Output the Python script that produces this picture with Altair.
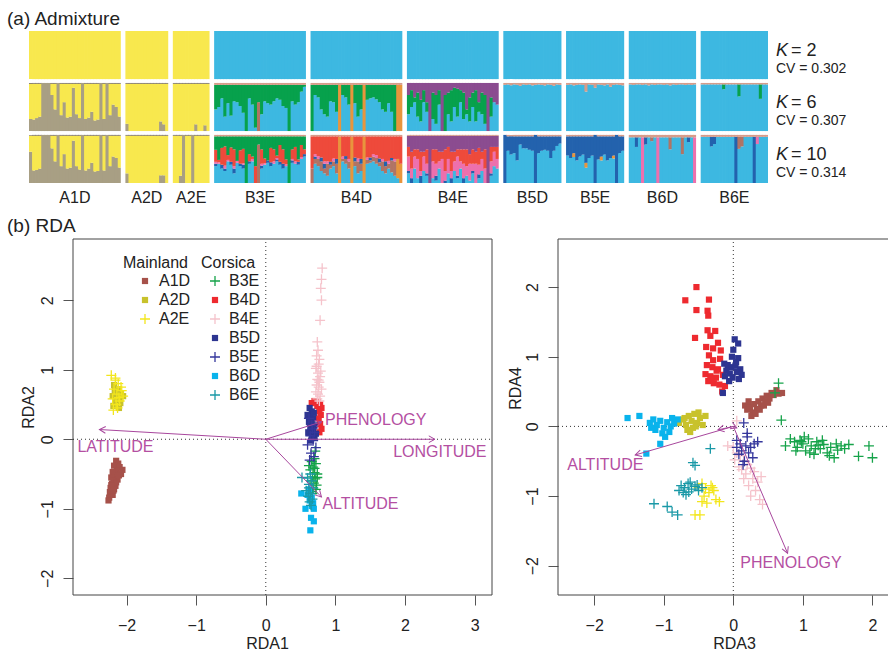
import math
import altair as alt
import pandas as pd

FONT = "Liberation Sans"
INK = "#222222"
ARROW = "#a8479d"
ARROW_TEXT = "#b44fa2"

# ------------------------------------------------------------------ (a) admixture
POPS = ["A1D", "A2D", "A2E", "B3E", "B4D", "B4E", "B5D", "B5E", "B6D", "B6E"]
N_IND = [30, 14, 12, 30, 30, 30, 19, 19, 22, 22]
K_LIST = [2, 6, 10]
CV_LIST = ["0.302", "0.307", "0.314"]

CLUSTERS = ["yellow", "grey", "stripe", "blue", "green", "orange",
            "purple", "red", "pink", "navy", "rose", "tip"]
CLUSTER_COLORS = ["#f8e84e", "#a89f84", "#8d8470", "#3db8e1", "#07a14c", "#e8953d",
                  "#8b4c90", "#ee4a3b", "#ed70ad", "#2362ad", "#b07465", "#d69c8a"]

# ancestry proportions (%) per individual, listed bottom-to-top inside each bar
A1D_K6_GREY = [25, 24, 27, 30, 100, 100, 100, 75, 45, 100, 33, 60, 28, 30, 90, 35, 27, 100, 25, 28,
               40, 22, 24, 100, 25, 100, 33, 55, 50, 30]
A1D_K10_GREY = [65, 26, 27, 30, 100, 100, 100, 72, 45, 100, 35, 60, 30, 32, 88, 35, 28, 100, 26, 30,
                42, 24, 25, 100, 26, 100, 35, 55, 52, 32]
A2D_K6_GREY = [15, 0, 0, 0, 0, 0, 0, 0, 0, 0, 0, 20, 14, 0]
A2D_K10_GREY = [20, 0, 0, 0, 0, 0, 0, 0, 0, 0, 0, 16, 16, 0]
A2E_K6_GREY = [0, 0, 0, 0, 0, 0, 0, 14, 0, 0, 12, 0]
A2E_K10_GREY = [0, 0, 15, 100, 0, 0, 100, 0, 0, 0, 0, 0]

B3E_K6_BLUE = [45, 50, 68, 30, 58, 32, 62, 60, 52, 38, 0, 68, 55, 7, 0, 35, 62, 58, 55, 62,
               68, 65, 52, 48, 0, 62, 55, 60, 82, 92]
B3E_K6_ROSE = [0, 0, 0, 0, 0, 0, 0, 0, 0, 0, 0, 0, 0, 0, 60, 0, 0, 0, 0, 0,
               0, 0, 0, 0, 0, 0, 0, 0, 0, 0]
B3E_K10_BLUE = [35, 40, 30, 25, 45, 38, 20, 42, 35, 30, 0, 40, 45, 0, 0, 30, 38, 42, 35, 40,
                45, 38, 30, 35, 0, 42, 40, 38, 50, 55]
B3E_K10_NAVY = [5, 0, 8, 5, 0, 6, 10, 0, 5, 8, 0, 5, 0, 0, 0, 6, 0, 5, 8, 0,
                4, 6, 10, 0, 0, 5, 0, 6, 0, 5]
B3E_K10_PINK = [4, 3, 0, 6, 3, 0, 5, 4, 0, 3, 0, 0, 5, 0, 0, 4, 3, 0, 0, 5,
                3, 0, 0, 4, 0, 3, 5, 0, 4, 0]
B3E_K10_RED = [25, 5, 35, 40, 10, 30, 35, 0, 28, 30, 0, 15, 5, 35, 0, 30, 10, 0, 30, 25,
               5, 35, 30, 10, 0, 20, 30, 5, 25, 10]
B3E_K10_ROSE = [0, 0, 0, 0, 0, 0, 0, 0, 0, 0, 0, 0, 0, 0, 80, 0, 0, 0, 0, 0,
                0, 0, 0, 0, 0, 0, 0, 0, 0, 0]

B4D_K6_BLUE = [0, 75, 70, 45, 35, 30, 62, 60, 40, 0, 75, 70, 55, 0, 58, 30, 45, 0, 65, 68,
               70, 66, 60, 45, 40, 58, 40, 0, 0, 0]
B4D_K6_ORANGE = [0, 0, 0, 0, 0, 0, 0, 0, 0, 96, 0, 0, 0, 96, 0, 0, 0, 96, 0, 0,
                 0, 0, 0, 0, 0, 0, 0, 0, 96, 96]
B4D_K10_BLUE = [0, 40, 35, 25, 20, 15, 30, 35, 20, 0, 45, 40, 30, 0, 35, 20, 25, 0, 40, 42,
                45, 40, 35, 25, 20, 30, 22, 15, 10, 0]
B4D_K10_ORANGE = [0, 0, 0, 0, 0, 0, 0, 0, 0, 96, 0, 0, 0, 96, 0, 0, 0, 96, 0, 0,
                  0, 0, 0, 0, 0, 0, 0, 0, 40, 40]
B4D_K10_ROSE = [30, 10, 15, 20, 10, 25, 8, 10, 20, 0, 5, 10, 15, 0, 10, 25, 15, 0, 8, 5,
                10, 12, 8, 20, 15, 10, 25, 30, 0, 0]
B4D_K10_NAVY = [0, 5, 0, 8, 10, 0, 6, 0, 10, 0, 0, 6, 0, 0, 8, 0, 10, 0, 0, 6,
                0, 0, 8, 0, 10, 0, 5, 0, 0, 0]
B4D_K10_PINK = [0, 5, 6, 0, 5, 5, 0, 6, 0, 0, 5, 0, 5, 0, 0, 6, 0, 0, 5, 0,
                5, 6, 0, 5, 0, 6, 0, 5, 0, 0]

B4E_K6_BLUE = [35, 50, 60, 30, 20, 60, 40, 0, 25, 15, 55, 0, 0, 35, 20, 50, 30, 60, 25, 35,
               20, 50, 20, 40, 35, 15, 0, 30, 60, 55]
B4E_K6_GREEN = [40, 35, 10, 50, 45, 25, 20, 0, 55, 60, 30, 0, 75, 45, 65, 40, 58, 25, 55, 10,
                50, 30, 65, 20, 45, 60, 0, 40, 0, 0]
B4E_K10_BLUE = [20, 0, 30, 10, 0, 25, 15, 0, 10, 5, 30, 0, 0, 20, 0, 25, 10, 30, 0, 15,
                5, 20, 0, 10, 25, 0, 0, 15, 35, 30]
B4E_K10_NAVY = [5, 10, 0, 0, 15, 0, 5, 0, 0, 10, 0, 0, 5, 0, 10, 0, 5, 0, 10, 0,
                0, 5, 0, 8, 0, 0, 0, 5, 0, 0]
B4E_K10_PINK = [30, 20, 25, 40, 10, 30, 20, 0, 35, 25, 15, 50, 20, 30, 15, 20, 40, 15, 30, 20,
                35, 15, 40, 20, 25, 30, 0, 25, 30, 20]
B4E_K10_RED = [20, 35, 15, 20, 40, 10, 30, 0, 25, 30, 20, 15, 45, 25, 40, 20, 15, 25, 30, 35,
               20, 30, 25, 35, 15, 40, 0, 30, 10, 25]

B5D_K6_TIP = [4, 3, 5, 3, 4, 6, 3, 4, 3, 5, 4, 3, 4, 5, 3, 4, 6, 3, 4]
B5D_K10_NAVY = [100, 30, 38, 35, 50, 17, 25, 25, 28, 30, 100, 35, 30, 28, 30, 45, 30, 20, 15]
B5E_K6_TIP = [4, 3, 5, 4, 3, 4, 18, 3, 4, 10, 3, 4, 5, 3, 8, 4, 3, 4, 5]
B5E_K10_NAVY = [40, 45, 35, 50, 42, 38, 55, 45, 40, 100, 48, 42, 38, 50, 45, 40, 100, 35, 30]
B5E_K10_ORANGE = [0, 0, 8, 0, 0, 0, 10, 0, 0, 0, 0, 8, 0, 0, 0, 6, 0, 0, 0]

B6D_K6_TIP = [3, 4, 3, 3, 4, 3, 5, 3, 4, 3, 3, 4, 3, 5, 3, 4, 3, 3, 4, 3, 4, 3]
B6D_K10_PINK = [0, 0, 0, 0, 95, 0, 0, 0, 0, 95, 0, 0, 0, 0, 0, 0, 0, 0, 0, 0, 0, 95]
B6D_K10_ROSE = [0, 0, 0, 0, 0, 0, 0, 8, 0, 0, 0, 0, 0, 25, 0, 0, 0, 35, 0, 0, 0, 0]
B6D_K10_NAVY = [0, 0, 20, 0, 0, 15, 0, 0, 0, 0, 0, 0, 0, 0, 0, 0, 0, 0, 0, 10, 0, 0]

B6E_K6_GREEN = [0, 0, 0, 0, 0, 0, 0, 10, 0, 0, 0, 0, 25, 0, 0, 0, 0, 0, 0, 30, 0, 0]
B6E_K10_NAVY = [0, 0, 0, 20, 15, 0, 0, 0, 0, 0, 0, 96, 0, 0, 0, 0, 0, 96, 0, 0, 0, 0]
B6E_K10_ROSE = [0, 0, 0, 0, 0, 0, 0, 0, 0, 0, 0, 0, 25, 20, 0, 0, 0, 0, 0, 0, 0, 0]
B6E_K10_PINK = [0, 0, 0, 0, 0, 0, 0, 0, 0, 0, 0, 0, 0, 0, 0, 0, 0, 0, 15, 0, 0, 0]

# (cluster, values) stacked from the bottom; None takes whatever is left
Q_MATRIX = {
    (6, "A1D"): [("grey", A1D_K6_GREY), ("yellow", None), ("stripe", 2)],
    (6, "A2D"): [("grey", A2D_K6_GREY), ("yellow", None), ("stripe", 2)],
    (6, "A2E"): [("grey", A2E_K6_GREY), ("yellow", None), ("stripe", 2)],
    (6, "B3E"): [("blue", B3E_K6_BLUE), ("rose", B3E_K6_ROSE), ("green", None), ("tip", 4)],
    (6, "B4D"): [("blue", B4D_K6_BLUE), ("orange", B4D_K6_ORANGE), ("green", None), ("tip", 4)],
    (6, "B4E"): [("blue", B4E_K6_BLUE), ("green", B4E_K6_GREEN), ("purple", None)],
    (6, "B5D"): [("blue", None), ("tip", B5D_K6_TIP)],
    (6, "B5E"): [("blue", None), ("tip", B5E_K6_TIP)],
    (6, "B6D"): [("blue", None), ("tip", B6D_K6_TIP)],
    (6, "B6E"): [("blue", None), ("green", B6E_K6_GREEN), ("tip", 3)],
    (10, "A1D"): [("grey", A1D_K10_GREY), ("yellow", None), ("stripe", 2)],
    (10, "A2D"): [("grey", A2D_K10_GREY), ("yellow", None), ("stripe", 2)],
    (10, "A2E"): [("grey", A2E_K10_GREY), ("yellow", None), ("stripe", 2)],
    (10, "B3E"): [("blue", B3E_K10_BLUE), ("navy", B3E_K10_NAVY), ("pink", B3E_K10_PINK),
                  ("red", B3E_K10_RED), ("rose", B3E_K10_ROSE), ("green", None), ("tip", 3)],
    (10, "B4D"): [("blue", B4D_K10_BLUE), ("orange", B4D_K10_ORANGE), ("rose", B4D_K10_ROSE),
                  ("navy", B4D_K10_NAVY), ("pink", B4D_K10_PINK), ("red", None), ("tip", 3)],
    (10, "B4E"): [("blue", B4E_K10_BLUE), ("navy", B4E_K10_NAVY), ("pink", B4E_K10_PINK),
                  ("red", B4E_K10_RED), ("purple", None), ("tip", 2)],
    (10, "B5D"): [("blue", None), ("navy", B5D_K10_NAVY), ("tip", 3)],
    (10, "B5E"): [("blue", None), ("orange", B5E_K10_ORANGE), ("navy", B5E_K10_NAVY), ("tip", 3)],
    (10, "B6D"): [("blue", None), ("pink", B6D_K10_PINK), ("rose", B6D_K10_ROSE),
                  ("navy", B6D_K10_NAVY), ("tip", 5)],
    (10, "B6E"): [("blue", None), ("rose", B6E_K10_ROSE), ("pink", B6E_K10_PINK),
                  ("navy", B6E_K10_NAVY), ("tip", 4)],
}
for pop in POPS:
    Q_MATRIX[(2, pop)] = [("yellow" if pop.startswith("A") else "blue", None)]

GAP = 1.5          # blank space between population blocks, in individuals
OVERLAP = 0.25     # bars overlap a hair so no seams show between neighbours
ROW_PITCH = 108    # one K row = 100 %, plus spacing

block_start = []
cursor = 0.0
for n in N_IND:
    block_start.append(cursor)
    cursor += n + GAP
ADM_XMAX = cursor - GAP
ADM_YMAX = 2 * ROW_PITCH + 100

seg_rows = []
for r, k in enumerate(K_LIST):
    top = r * ROW_PITCH
    for b, pop in enumerate(POPS):
        n = N_IND[b]
        cols = [(name, None if v is None else (v if isinstance(v, list) else [v] * n))
                for name, v in Q_MATRIX[(k, pop)]]
        for i in range(n):
            known = sum(v[i] for _, v in cols if v is not None)
            rest = max(0, 100 - known)
            cum = 0
            for name, v in cols:
                share = rest if v is None else v[i]
                lo, hi = min(cum, 100), min(cum + share, 100)
                cum += share
                if hi > lo:
                    seg_rows.append({
                        "x": block_start[b] + i,
                        "x2": block_start[b] + i + 1 + (OVERLAP if i < n - 1 else 0),
                        "y": top + 100 - hi, "y2": top + 100 - lo, "cluster": name})
seg_df = pd.DataFrame(seg_rows)

ADM_X = alt.Scale(domain=[0, ADM_XMAX], range=[29, 768], nice=False, zero=False)
ADM_Y = alt.Scale(domain=[0, ADM_YMAX], range=[31, 183], nice=False, zero=False)

adm_bars = alt.Chart(seg_df).mark_rect(strokeWidth=0).encode(
    x=alt.X("x:Q", scale=ADM_X, axis=None), x2="x2:Q",
    y=alt.Y("y:Q", scale=ADM_Y, axis=None), y2="y2:Q",
    color=alt.Color("cluster:N", scale=alt.Scale(domain=CLUSTERS, range=CLUSTER_COLORS), legend=None),
)

pop_lab_df = pd.DataFrame({
    "pop": POPS,
    "xc": [s + n / 2 for s, n in zip(block_start, N_IND)],
    "yl": [ADM_YMAX + 42] * len(POPS),
})
adm_pop_labels = alt.Chart(pop_lab_df).mark_text(
    font=FONT, fontSize=16, color=INK, align="center", baseline="alphabetic"
).encode(x=alt.X("xc:Q", scale=ADM_X, axis=None), y=alt.Y("yl:Q", scale=ADM_Y, axis=None), text="pop:N")

k_df = pd.DataFrame({
    "kx": [ADM_XMAX + 2.6] * 3,
    "ky": [r * ROW_PITCH + 52 for r in range(3)],
    "cvy": [r * ROW_PITCH + 88 for r in range(3)],
    "rest": ["= %d" % k for k in K_LIST],
    "cv": ["CV = " + c for c in CV_LIST],
    "kk": ["K"] * 3,
})
k_enc = dict(x=alt.X("kx:Q", scale=ADM_X, axis=None), y=alt.Y("ky:Q", scale=ADM_Y, axis=None))
adm_k = alt.Chart(k_df).mark_text(font=FONT, fontSize=18, fontStyle="italic", color=INK,
                                  align="left", baseline="alphabetic").encode(text="kk:N", **k_enc)
adm_k_rest = alt.Chart(k_df).mark_text(font=FONT, fontSize=18, color=INK, dx=15,
                                       align="left", baseline="alphabetic").encode(text="rest:N", **k_enc)
adm_cv = alt.Chart(k_df).mark_text(font=FONT, fontSize=14, color=INK, align="left",
                                   baseline="alphabetic").encode(
    x=alt.X("kx:Q", scale=ADM_X, axis=None), y=alt.Y("cvy:Q", scale=ADM_Y, axis=None), text="cv:N")

admixture = alt.layer(adm_bars, adm_pop_labels, adm_k, adm_k_rest, adm_cv)

# ------------------------------------------------------------------ (b) RDA
GROUPS = POPS
MAINLAND = ["A1D", "A2D", "A2E"]
CORSICA = ["B3E", "B4D", "B4E", "B5D", "B5E", "B6D", "B6E"]
GROUP_COLORS = ["#a6514a", "#c8c22c", "#f3e61c", "#16a34a", "#ee2a2f",
                "#f5c3cb", "#2d3591", "#35379c", "#09b3ec", "#1a99a7"]
SQUARE = "M-0.62,-0.62H0.62V0.62H-0.62Z"
PLUS = "M-1,-0.13H-0.13V-1H0.13V-0.13H1V0.13H0.13V1H-0.13V0.13H-1Z"
CHEVRON = "M-1,-0.55L0,0L-1,0.55"
GROUP_SHAPES = [SQUARE if g.endswith("D") else PLUS for g in GROUPS]

# site scores, RDA1 / RDA2
RDA12 = {
    "A1D": ([-2.15, -2.12, -2.18, -2.10, -2.06, -2.14, -2.20, -2.08, -2.17, -2.22, -2.13, -2.19,
             -2.21, -2.16, -2.23, -2.18, -2.24, -2.20, -2.25, -2.26, -2.11, -2.15, -2.22, -2.19],
            [-0.31, -0.35, -0.38, -0.40, -0.44, -0.45, -0.47, -0.50, -0.53, -0.55, -0.58, -0.60,
             -0.64, -0.67, -0.70, -0.72, -0.76, -0.80, -0.84, -0.88, -0.52, -0.62, -0.66, -0.74]),
    "A2D": ([-2.18, -2.12, -2.15, -2.08, -2.20, -2.14, -2.10, -2.16, -2.05, -2.13, -2.19, -2.11, -2.17, -2.09],
            [0.78, 0.72, 0.68, 0.66, 0.62, 0.60, 0.58, 0.55, 0.62, 0.50, 0.48, 0.45, 0.70, 0.52]),
    "A2E": ([-2.22, -2.16, -2.12, -2.08, -2.18, -2.14, -2.05, -2.20, -2.10, -2.15, -2.13, -2.19, -2.07, -2.16, -2.11],
            [0.92, 0.88, 0.80, 0.75, 0.72, 0.65, 0.62, 0.58, 0.55, 0.50, 0.45, 0.42, 0.70, 0.85, 0.60]),
    "B3E": ([0.70, 0.66, 0.72, 0.68, 0.64, 0.70, 0.74, 0.67, 0.71, 0.65, 0.69, 0.73, 0.68, 0.72, 0.66,
             0.70, 0.74, 0.67, 0.71, 0.62],
            [-0.28, -0.32, -0.35, -0.40, -0.44, -0.48, -0.50, -0.54, -0.57, -0.60, -0.63, -0.66, -0.70,
             -0.72, -0.75, -0.42, -0.55, -0.78, -0.17, -0.38]),
    "B4D": ([0.66, 0.70, 0.75, 0.78, 0.80, 0.77, 0.79, 0.76, 0.78, 0.80, 0.77, 0.74],
            [0.52, 0.55, 0.54, 0.50, 0.45, 0.40, 0.35, 0.30, 0.22, 0.15, 0.10, 0.48]),
    "B4E": ([0.81, 0.80, 0.79, 0.80, 0.78, 0.74, 0.75, 0.73, 0.77, 0.76, 0.72, 0.79, 0.75, 0.78,
             0.74, 0.77, 0.73, 0.76, 0.80, 0.72, 0.75, 0.78, 0.74, 0.77, 0.76, 0.73],
            [2.46, 2.30, 2.17, 2.00, 1.71, 1.40, 1.28, 1.20, 1.15, 1.08, 1.02, 0.98, 0.95, 0.90,
             0.86, 0.82, 0.78, 0.75, 0.72, 0.68, 0.65, 0.62, 0.58, 0.55, 0.85, 1.05]),
    "B5D": ([0.63, 0.66, 0.60, 0.64, 0.68, 0.62, 0.66, 0.70, 0.64, 0.68, 0.61, 0.66, 0.70, 0.65,
             0.67, 0.63, 0.69, 0.72],
            [0.45, 0.40, 0.35, 0.32, 0.30, 0.25, 0.22, 0.20, 0.15, 0.12, 0.10, 0.05, 0.02, -0.02,
             0.18, 0.28, 0.38, 0.08]),
    "B5E": ([0.62, 0.66, 0.70, 0.64, 0.68, 0.60, 0.72, 0.65, 0.69, 0.63, 0.67],
            [0.30, 0.20, 0.10, 0.05, -0.02, -0.08, -0.12, -0.20, -0.25, -0.30, 0.15]),
    "B6D": ([0.51, 0.60, 0.66, 0.63, 0.68, 0.57, 0.69, 0.65, 0.69, 0.64, 0.62, 0.66],
            [-0.78, -0.80, -0.84, -0.88, -0.92, -1.00, -1.00, -1.13, -1.18, -1.31, -0.72, -0.96]),
    "B6E": ([0.64, 0.60, 0.66, 0.62, 0.68, 0.58, 0.64, 0.61, 0.67, 0.63, 0.52, 0.65, 0.62],
            [-0.50, -0.56, -0.60, -0.65, -0.70, -0.74, -0.78, -0.82, -0.86, -0.90, -0.55, -0.95, -0.70]),
}

# site scores, RDA3 / RDA4
RDA34 = {
    "A1D": ([0.17, 0.20, 0.24, 0.28, 0.30, 0.34, 0.36, 0.40, 0.42, 0.46, 0.48, 0.52, 0.55, 0.58,
             0.62, 0.65, 0.70, 0.26, 0.32, 0.38, 0.44, 0.22, 0.50],
            [0.30, 0.24, 0.28, 0.20, 0.32, 0.25, 0.36, 0.30, 0.40, 0.36, 0.44, 0.40, 0.48, 0.45,
             0.52, 0.47, 0.48, 0.15, 0.18, 0.24, 0.30, 0.36, 0.34]),
    "A2D": ([-0.78, -0.72, -0.68, -0.64, -0.60, -0.56, -0.52, -0.48, -0.44, -0.40, -0.66, -0.58,
             -0.50, -0.70, -0.62, -0.54],
            [0.05, 0.10, 0.02, 0.15, 0.08, 0.18, 0.05, 0.12, 0.02, 0.15, -0.05, -0.02, 0.20, 0.12,
             -0.08, 0.00]),
    "A2E": ([-0.50, -0.45, -0.40, -0.35, -0.30, -0.25, -0.20, -0.42, -0.38, -0.55, -0.48, -0.32, -0.28, -0.45],
            [-0.88, -0.82, -0.90, -0.95, -0.88, -1.05, -1.08, -1.00, -1.10, -1.27, -1.27, -0.85, -0.92, -1.08]),
    "B3E": ([0.65, 0.60, 0.69, 0.75, 0.82, 0.88, 0.92, 0.96, 1.00, 1.04, 1.08, 1.12, 1.16, 1.20,
             1.25, 1.30, 1.35, 1.40, 1.45, 1.50, 1.55, 1.60, 1.66, 0.90, 1.02, 1.10, 1.18, 1.28,
             1.38, 1.48, 1.80, 1.95, 2.00, 0.98, 1.22],
            [0.62, 0.48, 0.09, -0.28, -0.18, -0.22, -0.30, -0.20, -0.25, -0.35, -0.18, -0.28, -0.40,
             -0.22, -0.32, -0.26, -0.38, -0.30, -0.45, -0.34, -0.28, -0.32, -0.26, -0.35, -0.15,
             -0.38, -0.32, -0.20, -0.42, -0.25, -0.43, -0.28, -0.45, -0.22, -0.27]),
    "B4D": ([-0.53, -0.69, -0.35, -0.53, -0.37, -0.36, -0.37, -0.26, -0.33, -0.55, -0.22, -0.39,
             -0.29, -0.18, -0.35, -0.29, -0.19, -0.38, -0.30, -0.22, -0.40, -0.33, -0.25, -0.15,
             -0.36, -0.28, -0.20, -0.12, -0.16, -0.32, -0.24],
            [2.00, 1.81, 1.82, 1.67, 1.66, 1.59, 1.38, 1.37, 1.30, 1.27, 1.20, 1.14, 1.12, 1.09,
             1.02, 0.95, 0.97, 0.88, 0.85, 0.82, 0.75, 0.72, 0.70, 0.74, 0.65, 0.62, 0.60, 0.58,
             0.50, 0.68, 0.80]),
    "B4E": ([-0.08, 0.00, 0.05, 0.10, 0.15, 0.20, 0.25, 0.30, 0.02, 0.08, 0.18, 0.28, 0.35, 0.40,
             0.22, 0.32, 0.12, 0.38, 0.42, 0.05, 0.25, 0.15],
            [-0.28, -0.30, -0.38, -0.42, -0.50, -0.55, -0.60, -0.65, -0.48, -0.58, -0.68, -0.75,
             -0.80, -0.72, -0.85, -0.92, -0.62, -1.05, -1.12, 0.08, -1.00, -0.75]),
    "B5D": ([0.02, 0.07, 0.00, -0.02, 0.07, -0.13, -0.08, -0.03, 0.03, 0.10, -0.10, -0.05, 0.05,
             0.12, -0.12, -0.01, 0.08, -0.15, -0.06, 0.04],
            [1.25, 1.19, 1.10, 1.00, 0.98, 0.90, 0.88, 0.85, 0.87, 0.82, 0.80, 0.76, 0.78, 0.74,
             0.72, 0.70, 0.68, 0.48, 0.65, 0.92]),
    "B5E": ([0.15, 0.20, 0.05, 0.10, 0.18, 0.25, 0.30, 0.12, 0.22, 0.08, 0.28, 0.16, 0.35, 0.14, 0.20, 0.05],
            [0.05, -0.10, -0.20, -0.25, -0.28, -0.30, -0.25, -0.35, -0.38, -0.40, -0.45, -0.50,
             -0.22, -0.55, -0.15, -0.30]),
    "B6D": ([-1.52, -1.35, -1.20, -1.15, -1.10, -1.05, -1.00, -0.95, -0.90, -0.85, -0.80, -1.12,
             -1.02, -0.92, -1.18, -0.98, -1.05, -1.25, -0.88],
            [0.12, 0.15, 0.05, 0.10, 0.02, 0.08, -0.02, 0.06, 0.00, 0.04, 0.10, -0.05, -0.10, -0.08,
             -0.02, -0.15, -0.25, -0.39, 0.12]),
    "B6E": ([-0.33, -0.58, -0.55, -0.75, -0.70, -0.65, -0.60, -0.55, -0.50, -0.72, -0.62, -0.68,
             -0.52, -0.45, -0.78, -1.14, -0.95, -0.88, -0.80, -0.64],
            [-0.32, -0.52, -0.56, -0.85, -0.88, -0.82, -0.90, -0.86, -0.92, -0.95, -0.80, -0.98,
             -0.84, -0.88, -0.92, -1.11, -1.15, -1.23, -1.27, -0.94]),
}

# environmental biplot arrows
ENV_VARS = ["LATITUDE", "LONGITUDE", "PHENOLOGY", "ALTITUDE"]
ARROW12_X = [-2.39, 2.43, 0.80, 0.80]
ARROW12_Y = [0.14, 0.00, 0.25, -0.83]
LABEL12_X = [-2.16, 2.50, 1.58, 1.36]
LABEL12_Y = [-0.11, -0.18, 0.27, -0.93]
ARROW34_X = [-0.22, 0.05, 0.78, -1.41]
ARROW34_Y = [-0.05, -0.02, -1.82, -0.41]
LABEL34_VARS = ["PHENOLOGY", "ALTITUDE"]
LABEL34_X = [0.83, -1.84]
LABEL34_Y = [-1.96, -0.55]

L_XDOM, L_XRNG = [-2.77, 3.25], [73, 492]
L_YDOM, L_YRNG = [-2.24, 2.88], [595, 239]
R_XDOM, R_XRNG = [-2.52, 2.54], [558, 910]
R_YDOM, R_YRNG = [-2.42, 2.69], [595, 239]


def scores_frame(table, groups):
    rows = []
    for g in groups:
        xs, ys = table[g]
        rows += [{"group": g, "x": a, "y": b} for a, b in zip(xs, ys)]
    return pd.DataFrame(rows)


def rda_panel(table, arrows_x, arrows_y, lab_vars, lab_x, lab_y,
              xdom, xrng, ydom, yrng, xticks, yticks, xtitle, ytitle,
              xtitle_x, ytitle_x, ytitle_y, with_legend):
    xs = alt.Scale(domain=xdom, range=xrng, nice=False, zero=False)
    ys = alt.Scale(domain=ydom, range=yrng, nice=False, zero=False)
    kx = (xrng[1] - xrng[0]) / (xdom[1] - xdom[0])
    ky = (yrng[0] - yrng[1]) / (ydom[1] - ydom[0])

    ax_common = dict(domain=False, grid=False, tickSize=10, tickWidth=1, tickColor="#555555",
                     labelFont=FONT, labelFontSize=16, labelColor=INK, format="d",
                     titleFont=FONT, titleFontSize=16, titleFontWeight="normal", titleColor=INK,
                     titleBaseline="alphabetic")
    x_axis = alt.Axis(orient="bottom", offset=yrng[0] - 653, values=xticks, labelPadding=12,
                      title=xtitle, titleX=xtitle_x, titleY=53, **ax_common)
    y_axis = alt.Axis(orient="left", offset=-xrng[0], values=yticks, labelAngle=270,
                      labelAlign="center", labelBaseline="bottom", labelPadding=8,
                      title=ytitle, titleAngle=270, titleX=ytitle_x, titleY=ytitle_y, **ax_common)

    # every layer of the panel carries the same axis definition so they merge into one
    def X(field):
        return alt.X(field, scale=xs, axis=x_axis)

    def Y(field):
        return alt.Y(field, scale=ys, axis=y_axis)

    box_df = pd.DataFrame({"x0": [xdom[0]], "x1": [xdom[1]], "y0": [ydom[0]], "y1": [ydom[1]]})
    box = alt.Chart(box_df).mark_rect(fillOpacity=0, stroke="#444444", strokeWidth=1).encode(
        x=X("x0:Q"), x2="x1:Q", y=Y("y0:Q"), y2="y1:Q")

    zero_df = pd.DataFrame({"z": [0.0], "x0": [xdom[0]], "x1": [xdom[1]], "y0": [ydom[0]], "y1": [ydom[1]]})
    vline = alt.Chart(zero_df).mark_rule(color="#333333", strokeWidth=1, strokeDash=[1, 3]).encode(
        x=X("z:Q"), y=Y("y0:Q"), y2="y1:Q")
    hline = alt.Chart(zero_df).mark_rule(color="#333333", strokeWidth=1, strokeDash=[1, 3]).encode(
        x=X("x0:Q"), x2="x1:Q", y=Y("z:Q"))

    def point_layer(groups, legend_title, legend_x, sym_offset):
        cols = [GROUP_COLORS[GROUPS.index(g)] for g in groups]
        shps = [GROUP_SHAPES[GROUPS.index(g)] for g in groups]
        if with_legend:
            lg = alt.Legend(title=legend_title, orient="none", legendX=legend_x, legendY=255,
                            padding=0, titleFont=FONT, titleFontSize=16, titleFontWeight="normal",
                            titleColor=INK, titlePadding=2, labelFont=FONT, labelFontSize=16,
                            labelColor=INK, labelOffset=6, symbolSize=100, symbolStrokeWidth=0,
                            symbolOffset=sym_offset, rowPadding=3)
            cenc = alt.Color("group:N", scale=alt.Scale(domain=groups, range=cols), legend=lg)
            senc = alt.Shape("group:N", scale=alt.Scale(domain=groups, range=shps), legend=lg)
        else:
            cenc = alt.Color("group:N", scale=alt.Scale(domain=groups, range=cols), legend=None)
            senc = alt.Shape("group:N", scale=alt.Scale(domain=groups, range=shps), legend=None)
        return alt.Chart(scores_frame(table, groups)).mark_point(
            filled=True, opacity=1, size=100, strokeWidth=0).encode(
            x=X("x:Q"), y=Y("y:Q"), color=cenc, shape=senc)

    if with_legend:
        pts = [point_layer(MAINLAND, "Mainland", 123, 14), point_layer(CORSICA, "Corsica", 201, 6)]
    else:
        pts = [point_layer(GROUPS, "", 0, 0)]

    arr_df = pd.DataFrame({
        "var": ENV_VARS, "o": [0.0] * 4, "x": arrows_x, "y": arrows_y,
        "ang": [math.degrees(math.atan2(-dy * ky, dx * kx)) % 360 for dx, dy in zip(arrows_x, arrows_y)],
    })
    shafts = alt.Chart(arr_df).mark_rule(color=ARROW, strokeWidth=1).encode(
        x=X("o:Q"), y=Y("o:Q"), x2="x:Q", y2="y:Q")
    heads = alt.Chart(arr_df).mark_point(shape=CHEVRON, filled=False, size=150, color=ARROW,
                                         strokeWidth=1, opacity=1).encode(
        x=X("x:Q"), y=Y("y:Q"), angle=alt.Angle("ang:Q", scale=None))
    lab_df = pd.DataFrame({"var": lab_vars, "x": lab_x, "y": lab_y})
    labels = alt.Chart(lab_df).mark_text(font=FONT, fontSize=16, color=ARROW_TEXT,
                                         align="center", baseline="middle").encode(
        x=X("x:Q"), y=Y("y:Q"), text="var:N")

    panel = alt.layer(box, vline, hline, *pts, shafts, heads, labels)
    if with_legend:
        panel = panel.resolve_scale(color="independent", shape="independent")
    return panel


left = rda_panel(RDA12, ARROW12_X, ARROW12_Y, ENV_VARS, LABEL12_X, LABEL12_Y,
                 L_XDOM, L_XRNG, L_YDOM, L_YRNG, [-2, -1, 0, 1, 2, 3], [-2, -1, 0, 1, 2],
                 "RDA1", "RDA2", 267, -40, 407, True)
right = rda_panel(RDA34, ARROW34_X, ARROW34_Y, LABEL34_VARS, LABEL34_X, LABEL34_Y,
                  R_XDOM, R_XRNG, R_YDOM, R_YRNG, [-2, -1, 0, 1, 2], [-2, -1, 0, 1, 2],
                  "RDA3", "RDA4", 734, -38, 388, False)

# panel tags
tag_a = alt.Chart(pd.DataFrame({"t": ["(a) Admixture"]})).mark_text(
    font=FONT, fontSize=19, color=INK, align="left", baseline="alphabetic"
).encode(x=alt.value(7), y=alt.value(25), text="t:N")
tag_b = alt.Chart(pd.DataFrame({"t": ["(b) RDA"]})).mark_text(
    font=FONT, fontSize=19, color=INK, align="left", baseline="alphabetic"
).encode(x=alt.value(7), y=alt.value(232), text="t:N")

chart = alt.layer(admixture, left, right, tag_a, tag_b).resolve_scale(
    x="independent", y="independent", color="independent", shape="independent"
).resolve_axis(x="independent", y="independent").properties(
    width=888, height=653, padding=0, autosize=alt.AutoSizeParams(type="none")
).configure_view(strokeWidth=0)

chart.save("out.html", embed_options={"renderer": "svg", "actions": False})
